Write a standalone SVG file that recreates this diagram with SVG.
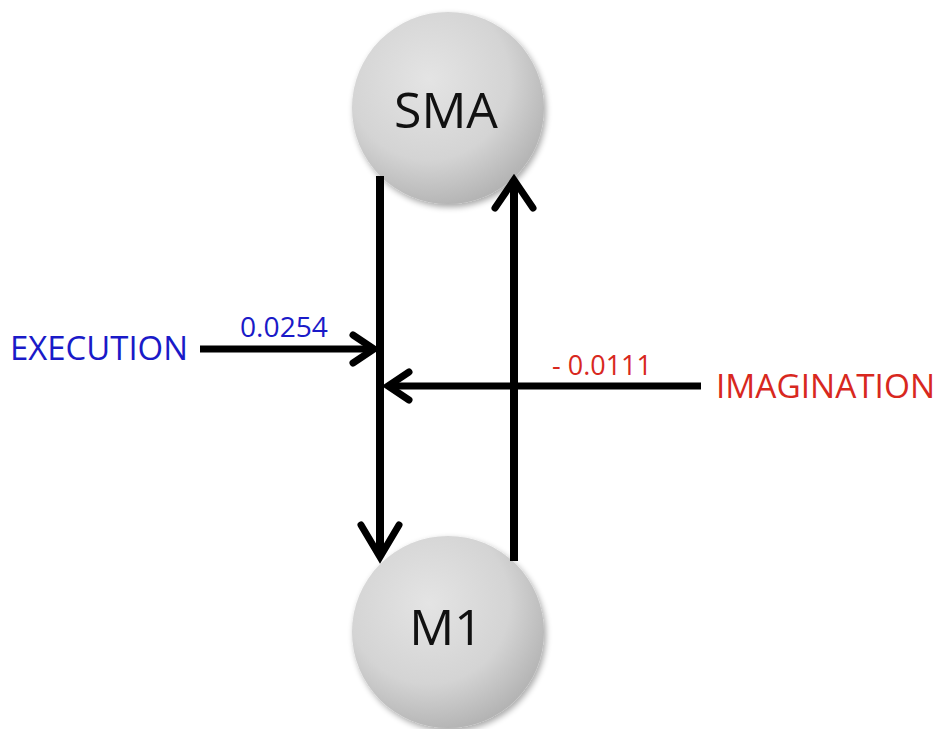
<svg xmlns="http://www.w3.org/2000/svg" width="945" height="729" viewBox="0 0 945 729">
  <defs>
    <radialGradient id="ball" cx="0.4" cy="0.35" r="0.7">
      <stop offset="0" stop-color="#e4e4e4"/>
      <stop offset="0.6" stop-color="#d4d4d4"/>
      <stop offset="1" stop-color="#b0b0b0"/>
    </radialGradient>
    <filter id="shadow" x="-20%" y="-20%" width="140%" height="140%">
      <feGaussianBlur in="SourceAlpha" stdDeviation="3"/>
      <feOffset dx="2" dy="3"/>
      <feComponentTransfer><feFuncA type="linear" slope="0.35"/></feComponentTransfer>
      <feMerge><feMergeNode/><feMergeNode in="SourceGraphic"/></feMerge>
    </filter>
  </defs>
  <style>
    .node { fill: url(#ball); filter: url(#shadow); }
    .nlabel { font-family: "Open Sans", "Liberation Sans", sans-serif; font-size: 50px; fill: #111; text-anchor: middle; }
    .wire { stroke: #000; stroke-width: 8; fill: none; stroke-linecap: butt; }
    .head { stroke: #000; stroke-width: 7; fill: none; stroke-linecap: round; stroke-linejoin: miter; }
    .inwire { stroke: #000; stroke-width: 7; fill: none; }
    .lbl { font-family: "Open Sans", "Liberation Sans", sans-serif; }
    .blue { fill: #1a1ac8; }
    .red { fill: #d8281e; }
  </style>
  <rect width="945" height="729" fill="#ffffff"/>

  <g id="node-sma">
    <circle class="node" cx="448" cy="108" r="96"/>
    <text class="nlabel" x="446" y="128">SMA</text>
  </g>

  <g id="node-m1">
    <circle class="node" cx="448" cy="632" r="96"/>
    <text class="nlabel" x="446" y="645">M1</text>
  </g>

  <g id="connectors">
    <!-- SMA to M1 -->
    <line class="wire" x1="380" y1="176" x2="380" y2="556"/>
    <polyline class="head" points="361,525 380,557 399,525"/>
    <!-- M1 to SMA -->
    <line class="wire" x1="514" y1="561" x2="514" y2="182"/>
    <polyline class="head" points="495,208 514,180 533,208"/>
    <!-- execution input -->
    <line class="inwire" x1="200" y1="349" x2="372" y2="349"/>
    <polyline class="head" points="353,335 374,349 353,363"/>
    <!-- imagination input -->
    <line class="inwire" x1="701" y1="386" x2="390" y2="386"/>
    <polyline class="head" points="409,372 388,386 409,400"/>
  </g>

  <g id="labels">
    <text class="lbl blue" x="10" y="360" font-size="32" textLength="178" lengthAdjust="spacingAndGlyphs">EXECUTION</text>
    <text class="lbl blue" x="240" y="337" font-size="27" textLength="88" lengthAdjust="spacingAndGlyphs">0.0254</text>
    <text class="lbl red" x="552" y="375" font-size="27" textLength="100" lengthAdjust="spacingAndGlyphs">- 0.0111</text>
    <text class="lbl red" x="716" y="398" font-size="32" textLength="219" lengthAdjust="spacingAndGlyphs">IMAGINATION</text>
  </g>
</svg>
